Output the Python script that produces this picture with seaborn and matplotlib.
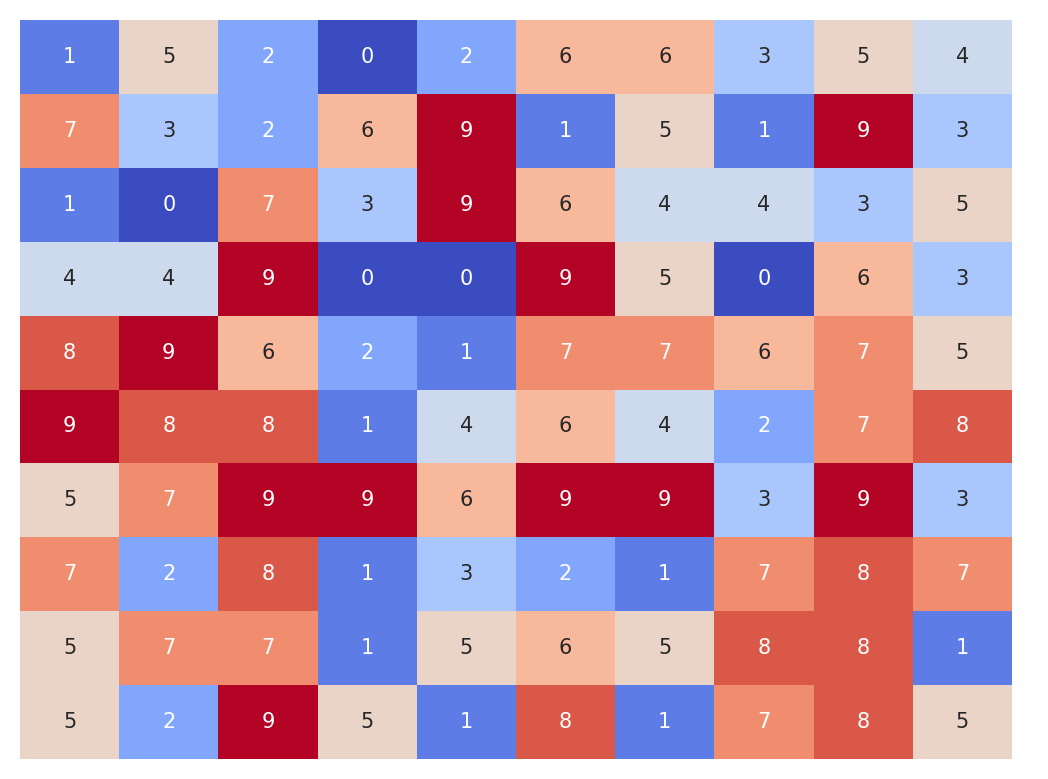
import numpy as np
import matplotlib
matplotlib.use("Agg")
import matplotlib.pyplot as plt
import seaborn as sns

row0 = [1, 5, 2, 0, 2, 6, 6, 3, 5, 4]
row1 = [7, 3, 2, 6, 9, 1, 5, 1, 9, 3]
row2 = [1, 0, 7, 3, 9, 6, 4, 4, 3, 5]
row3 = [4, 4, 9, 0, 0, 9, 5, 0, 6, 3]
row4 = [8, 9, 6, 2, 1, 7, 7, 6, 7, 5]
row5 = [9, 8, 8, 1, 4, 6, 4, 2, 7, 8]
row6 = [5, 7, 9, 9, 6, 9, 9, 3, 9, 3]
row7 = [7, 2, 8, 1, 3, 2, 1, 7, 8, 7]
row8 = [5, 7, 7, 1, 5, 6, 5, 8, 8, 1]
row9 = [5, 2, 9, 5, 1, 8, 1, 7, 8, 5]

data = np.array([row0, row1, row2, row3, row4, row5, row6, row7, row8, row9])

fig = plt.figure(figsize=(10.48, 7.79), dpi=100)
ax = fig.add_axes([20 / 1048, 20 / 779, 992 / 1048, 739 / 779])
sns.heatmap(data, cmap="coolwarm", annot=True, cbar=False, ax=ax,
            annot_kws={"fontsize": 15}, xticklabels=False, yticklabels=False)
ax.tick_params(left=False, bottom=False)
fig.savefig("out.png", dpi=100)
